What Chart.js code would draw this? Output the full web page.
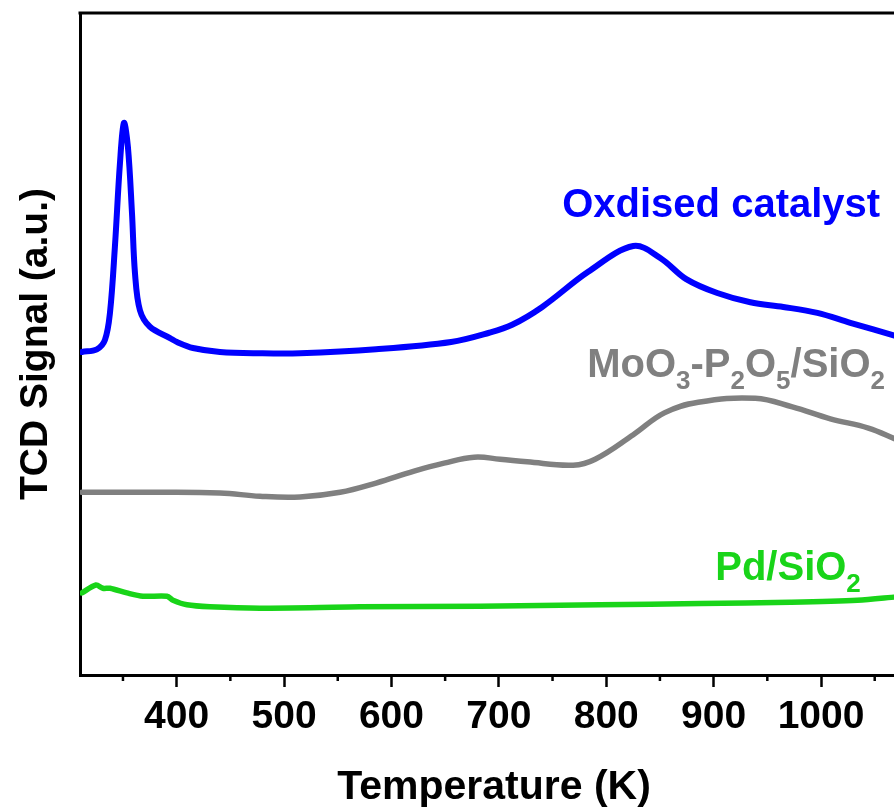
<!DOCTYPE html>
<html>
<head>
<meta charset="utf-8">
<script src="https://cdn.jsdelivr.net/npm/chart.js@4.4.0/dist/chart.umd.min.js"></script>
<style>
html,body{margin:0;padding:0;background:#fff;overflow:hidden;}
#wrap{width:894px;height:808px;overflow:hidden;position:relative;}
canvas{display:block;}
</style>
</head>
<body>
<div id="wrap"><canvas id="c" width="908" height="808"></canvas></div>
<script>
// ---- Data ----
const oxidisedT = [311.8,325.7,333.2,337.9,342.5,347.2,350.9,354.6,358.4,361.2,365.8,375.1,393.8,400.3,415.2,440.3,477.6,514.9,585.7,655.6,691.0,712.4,740.4,783.2,825.2,850.3,874.5,903.4,934.2,964.9,996.6,1027.3,1070];
const oxidisedSignal = [48.8,49.2,50.6,54.7,64.7,77.3,83.4,79.8,69.8,60.7,55.1,52.6,50.9,50.3,49.4,48.8,48.6,48.6,49.2,50.3,51.7,52.9,55.6,60.9,64.8,63.0,59.8,57.7,56.3,55.6,54.7,53.2,51.2];

const moT = [311.8,375.1,440.3,477.6,514.9,552.2,585.7,621.1,649.0,677.0,701.2,726.4,769.2,789.7,825.2,854.1,885.7,938.8,973.3,1008.7,1044.1,1070];
const moSignal = [27.6,27.6,27.5,27.0,26.9,27.6,29.0,30.8,32.0,32.9,32.6,32.2,31.7,32.6,36.3,39.6,41.2,41.8,40.5,38.7,37.3,35.6];

const pdT = [311.8,324.8,331.3,337.9,353.7,368.6,391.0,396.6,409.6,431.0,477.6,570.8,682.6,794.4,887.6,971.4,1033.9,1070];
const pdSignal = [12.4,13.6,13.1,13.1,12.4,11.9,11.9,11.3,10.6,10.3,10.1,10.3,10.4,10.6,10.8,11.0,11.3,11.8];

const xMajorTicks = [400,500,600,700,800,900,1000];
const xMinorTicks = [350,450,550,650,750,850,950,1050];
const xMin = 310, xMax = 1081;
const yMin = 0, yMax = 100;

const seriesNames = ['Oxdised catalyst','MoO3-P2O5/SiO2','Pd/SiO2'];
const xTitle = 'Temperature (K)';
const yTitle = 'TCD Signal (a.u.)';

// label anchors (data coordinates: temperature, signal) and text runs
const labelAnchors = [
  {x: 759.0, y: 69.2, color: '#0000ff', runs: [['Oxdised catalyst', false]]},
  {x: 782.3, y: 45.0, color: '#808080', runs: [['MoO',false],['3',true],['-P',false],['2',true],['O',false],['5',true],['/SiO',false],['2',true]]},
  {x: 901.5, y: 14.35, color: '#19d419', runs: [['Pd/SiO',false],['2',true]]}
];

const FONT = '"Liberation Sans", Arial, Helvetica, sans-serif';

const pts = (xs, ys) => xs.map((x, i) => ({x: x, y: ys[i]}));

const framePlugin = {
  id: 'frame',
  afterDraw(chart) {
    const ctx = chart.ctx, a = chart.chartArea, xs = chart.scales.x;
    ctx.save();
    ctx.strokeStyle = '#000';
    ctx.lineWidth = 3;
    ctx.beginPath();
    ctx.moveTo(a.left - 1.5, a.top);
    ctx.lineTo(a.right, a.top);
    ctx.stroke();
    ctx.lineWidth = 2.5;
    xMinorTicks.forEach(v => {
      const px = xs.getPixelForValue(v);
      ctx.beginPath();
      ctx.moveTo(px, a.bottom);
      ctx.lineTo(px, a.bottom + 6);
      ctx.stroke();
    });
    const main = 40, sub = 26;
    labelAnchors.forEach(l => {
      let px = xs.getPixelForValue(l.x);
      const py = chart.scales.y.getPixelForValue(l.y);
      ctx.fillStyle = l.color;
      ctx.textAlign = 'left';
      ctx.textBaseline = 'alphabetic';
      l.runs.forEach(([t, isSub]) => {
        ctx.font = 'bold ' + (isSub ? sub : main) + 'px ' + FONT;
        ctx.fillText(t, px, isSub ? py + 12 : py);
        px += ctx.measureText(t).width;
      });
    });
    ctx.restore();
  }
};

new Chart(document.getElementById('c'), {
  type: 'line',
  data: {
    datasets: [
      {label: seriesNames[0], data: pts(oxidisedT, oxidisedSignal), borderColor: '#0000ff', borderWidth: 6, tension: 0.35},
      {label: seriesNames[1], data: pts(moT, moSignal), borderColor: '#808080', borderWidth: 5.5, tension: 0.4},
      {label: seriesNames[2], data: pts(pdT, pdSignal), borderColor: '#19d419', borderWidth: 5.5, tension: 0.3}
    ]
  },
  options: {
    responsive: false,
    animation: false,
    devicePixelRatio: 1,
    layout: {padding: {top: 13, right: 0, left: 0, bottom: 0}},
    plugins: {legend: {display: false}, tooltip: {enabled: false}},
    elements: {
      point: {radius: 0},
      line: {fill: false, borderCapStyle: 'round', borderJoinStyle: 'round'}
    },
    scales: {
      x: {
        type: 'linear', min: xMin, max: xMax,
        afterBuildTicks: s => { s.ticks = xMajorTicks.map(v => ({value: v})); },
        afterFit: s => { s.height = 133; },
        ticks: {font: {family: FONT, weight: 'bold', size: 39}, color: '#000', padding: 7, maxRotation: 0, autoSkip: false, includeBounds: false,
                callback: v => String(v)},
        grid: {display: true, drawOnChartArea: false, drawTicks: true, tickLength: 12, tickWidth: 2.5, tickColor: '#000'},
        border: {display: true, color: '#000', width: 3},
        title: {display: true, text: xTitle, color: '#000', font: {family: FONT, weight: 'bold', size: 41, lineHeight: 1}, padding: {top: 0, bottom: 0}}
      },
      y: {
        type: 'linear', min: yMin, max: yMax,
        afterFit: s => { s.width = 80; },
        ticks: {display: false},
        grid: {display: false},
        border: {display: true, color: '#000', width: 3},
        title: {display: true, text: yTitle, color: '#000', font: {family: FONT, weight: 'bold', size: 39, lineHeight: 1}, padding: {top: 17, bottom: 0}}
      }
    }
  },
  plugins: [framePlugin]
});
</script>
</body>
</html>
